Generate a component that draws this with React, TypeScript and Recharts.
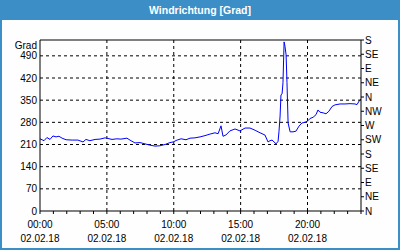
import { Line, LineChart, ReferenceLine, XAxis, YAxis } from "recharts";

// Zeitpunkte in Minuten seit 00:00 am 02.02.18
const minutes = [
  0, 18, 31, 45, 58, 72, 85, 99, 117, 144, 170, 193, 206, 224, 247, 269, 292,
  305, 323, 345, 363, 390, 408, 426, 449, 471, 493, 516, 538, 561, 583, 597,
  615, 633, 655, 673, 695, 718, 740, 763, 785, 799, 812, 821, 834, 852, 875,
  897, 920, 942, 965, 987, 1009, 1023, 1032, 1041, 1059, 1068, 1072, 1077,
  1081, 1086, 1090, 1095, 1099, 1104, 1108, 1113, 1122, 1135, 1148, 1162,
  1175, 1189, 1202, 1211, 1225, 1238, 1247, 1256, 1270, 1283, 1296, 1310,
  1323, 1346, 1368, 1391, 1413, 1422, 1435, 1440,
];

// Windrichtung in Grad
const direction = [
  228, 222, 232, 226, 237, 234, 236, 230, 225, 224, 224, 218, 226, 222, 226,
  227, 231, 229, 226, 228, 227, 230, 222, 215, 216, 212, 208, 205, 206, 210,
  216, 218, 224, 228, 225, 230, 231, 234, 238, 243, 247, 244, 269, 236, 240,
  253, 259, 253, 262, 262, 255, 247, 240, 218, 222, 224, 212, 220, 250, 300,
  367, 370, 405, 534, 520, 493, 405, 278, 250, 250, 252, 268, 278, 280, 285,
  292, 296, 304, 319, 312, 310, 307, 315, 330, 335, 338, 338, 339, 338, 336,
  351, 352,
];

const gradTicks = [0, 70, 140, 210, 280, 350, 420, 490, 540];
const gridValues = [70, 140, 210, 280, 350, 420, 490];
const compassTicks = [0, 45, 90, 135, 180, 225, 270, 315, 360, 405, 450, 495, 540];
const compassLabels = ["N", "NE", "E", "SE", "S", "SW", "W", "NW", "N", "NE", "E", "SE", "S"];
const hourTicks = [
  0, 60, 120, 180, 240, 300, 360, 420, 480, 540, 600, 660, 720, 780, 840, 900,
  960, 1020, 1080, 1140, 1200, 1260, 1320, 1380, 1440,
];
const majorTicks = [0, 300, 600, 900, 1200];
const timeLabels = ["00:00", "05:00", "10:00", "15:00", "20:00"];
const dateLabel = "02.02.18";

const data = minutes.map((t, i) => ({ t, v: direction[i] }));

const FONT = "'Liberation Sans', Arial, sans-serif";
const BLUE = "#3b8ec6";

function GradTick({ x, y, payload }: any) {
  const isTop = payload.value === 540;
  return (
    <text
      x={x}
      y={y + (isTop ? 5 : 0)}
      dy={3.5}
      textAnchor="end"
      fontSize={10}
      fontFamily={FONT}
      fill="#000"
    >
      {isTop ? "Grad" : payload.value}
    </text>
  );
}

function TimeTick({ x, y, payload }: any) {
  const idx = majorTicks.indexOf(payload.value);
  return (
    <g>
      <line x1={x} y1={y} x2={x} y2={y + 3} stroke="#000" />
      {idx >= 0 && (
        <>
          <text x={x} y={y + 17} textAnchor="middle" fontSize={10} fontFamily={FONT} fill="#000">
            {timeLabels[idx]}
          </text>
          <text x={x} y={y + 31} textAnchor="middle" fontSize={10} fontFamily={FONT} fill="#000">
            {dateLabel}
          </text>
        </>
      )}
    </g>
  );
}

export default function App() {
  return (
    <div
      style={{
        position: "fixed",
        left: 0,
        top: 0,
        width: 400,
        height: 250,
        background: BLUE,
        fontFamily: FONT,
      }}
    >
      <div
        style={{
          height: 20,
          lineHeight: "20px",
          textAlign: "center",
          color: "#fff",
          fontWeight: "bold",
          fontSize: 10.5,
        }}
      >
        Windrichtung [Grad]
      </div>
      <div
        style={{
          position: "absolute",
          left: 2,
          top: 20,
          width: 396,
          height: 228,
          background: "#fdfefd",
        }}
      />
      <div style={{ position: "absolute", left: 0, top: 20 }}>
        <LineChart
          width={400}
          height={230}
          data={data}
          margin={{ top: 20, right: 0, left: 0, bottom: 0 }}
        >
          <XAxis
            dataKey="t"
            type="number"
            domain={[0, 1440]}
            ticks={hourTicks}
            interval={0}
            height={39}
            tickLine={false}
            tickSize={0}
            tickMargin={0}
            tick={<TimeTick />}
            axisLine={{ stroke: "#000" }}
          />
          <YAxis
            yAxisId="left"
            type="number"
            domain={[0, 540]}
            ticks={gradTicks}
            interval={0}
            width={40}
            tickLine={false}
            tickSize={0}
            tickMargin={3}
            tick={<GradTick />}
            axisLine={{ stroke: "#000" }}
            allowDataOverflow
          />
          <YAxis
            yAxisId="right"
            orientation="right"
            type="number"
            domain={[0, 540]}
            ticks={compassTicks}
            interval={0}
            width={39}
            tickSize={3}
            tickMargin={1}
            tickLine={{ stroke: "#000" }}
            axisLine={{ stroke: "#000" }}
            tick={{ fontSize: 10, fontFamily: FONT, fill: "#000" }}
            tickFormatter={(v: number) => compassLabels[compassTicks.indexOf(v)]}
            allowDataOverflow
          />
          {gridValues.map((g) => (
            <ReferenceLine
              key={`h-${g}`}
              yAxisId="left"
              y={g}
              stroke="#000"
              strokeDasharray="3 3"
            />
          ))}
          {majorTicks.slice(1).map((m) => (
            <ReferenceLine
              key={`v-${m}`}
              yAxisId="left"
              x={m}
              stroke="#000"
              strokeDasharray="3 3"
            />
          ))}
          <ReferenceLine yAxisId="left" y={540} stroke="#000" />
          <Line
            yAxisId="left"
            dataKey="v"
            type="linear"
            stroke="#0000ff"
            strokeWidth={1}
            dot={false}
            isAnimationActive={false}
          />
        </LineChart>
      </div>
    </div>
  );
}
